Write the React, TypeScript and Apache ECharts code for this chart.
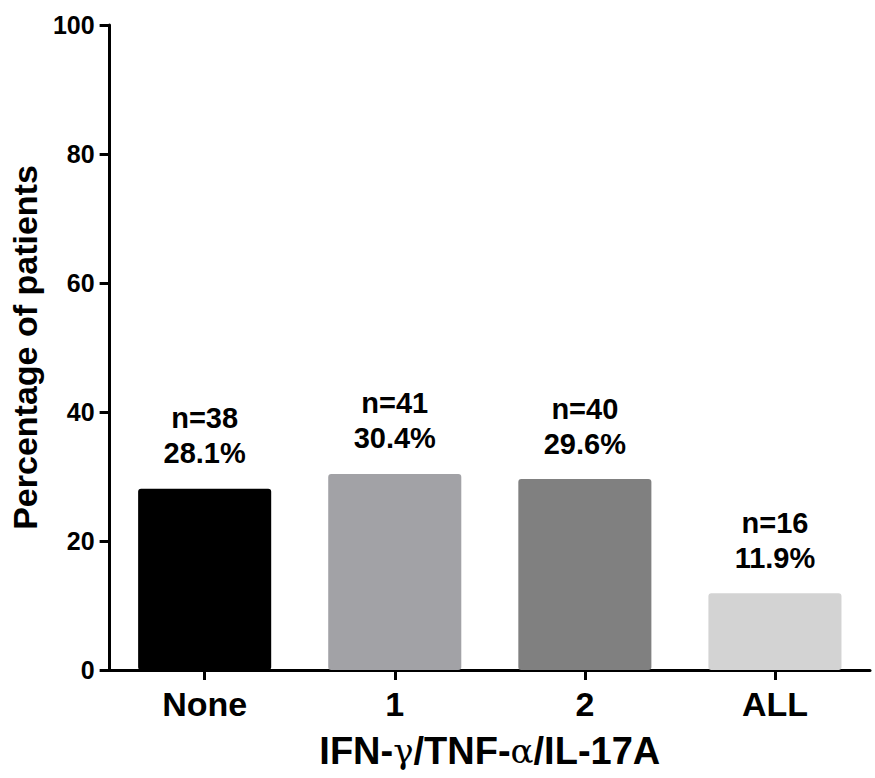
import React, { useEffect, useRef } from "react";
import * as echarts from "echarts";

const categories = ["None", "1", "2", "ALL"];
const percentages = [28.1, 30.4, 29.6, 11.9];
const counts = [38, 41, 40, 16];
const barColors = ["#000000", "#a2a2a6", "#808080", "#d3d3d3"];
const yTicks = [0, 20, 40, 60, 80, 100];

const FONT = "'Liberation Sans', Arial, Helvetica, sans-serif";

export default function App() {
  const ref = useRef<HTMLDivElement>(null);
  useEffect(() => {
    if (!ref.current) return;
    const chart = echarts.init(ref.current, null, { renderer: "svg" });
    chart.setOption({
      animation: false,
      backgroundColor: "#ffffff",
      grid: { left: 105, right: 5, top: 25, bottom: 108, containLabel: false },
      xAxis: {
        type: "category",
        data: categories,
        name: "IFN-{g|γ}/TNF-{g|α}/IL-17A",
        nameLocation: "middle",
        nameGap: 62,
        nameTextStyle: {
          fontFamily: FONT,
          fontWeight: "bold",
          fontSize: 38,
          color: "#000",
          rich: {
            g: { fontFamily: "'DejaVu Serif', serif", fontWeight: "normal", fontSize: 34, color: "#000" },
          },
        },
        axisLine: { show: true, lineStyle: { color: "#000", width: 3 } },
        axisTick: { show: true, alignWithLabel: true, length: 10, lineStyle: { color: "#000", width: 3 } },
        axisLabel: {
          fontFamily: FONT,
          fontWeight: "bold",
          fontSize: 34,
          color: "#000",
          margin: 17,
        },
      },
      yAxis: {
        type: "value",
        min: yTicks[0],
        max: yTicks[yTicks.length - 1],
        interval: 20,
        name: "Percentage of patients",
        nameLocation: "middle",
        nameGap: 62,
        nameTextStyle: { fontFamily: FONT, fontWeight: "bold", fontSize: 34, color: "#000" },
        splitLine: { show: false },
        axisLine: { show: true, lineStyle: { color: "#000", width: 3 } },
        axisTick: { show: true, length: 10, lineStyle: { color: "#000", width: 3 } },
        axisLabel: { fontFamily: FONT, fontWeight: "bold", fontSize: 25, color: "#000", margin: 15 },
      },
      series: [
        {
          type: "bar",
          data: percentages.map((v, i) => ({
            value: v,
            itemStyle: { color: barColors[i], borderRadius: 3 },
          })),
          barCategoryGap: "30%",
          label: {
            show: true,
            position: "top",
            distance: 18,
            fontFamily: FONT,
            fontWeight: "bold",
            fontSize: 29,
            lineHeight: 35,
            color: "#000",
            align: "center",
            formatter: (p: any) => `n=${counts[p.dataIndex]}\n${percentages[p.dataIndex].toFixed(1)}%`,
          },
        },
      ],
    });
    return () => chart.dispose();
  }, []);
  return (
    <div
      ref={ref}
      style={{ position: "absolute", left: 0, top: 0, width: 875, height: 778 }}
    />
  );
}
